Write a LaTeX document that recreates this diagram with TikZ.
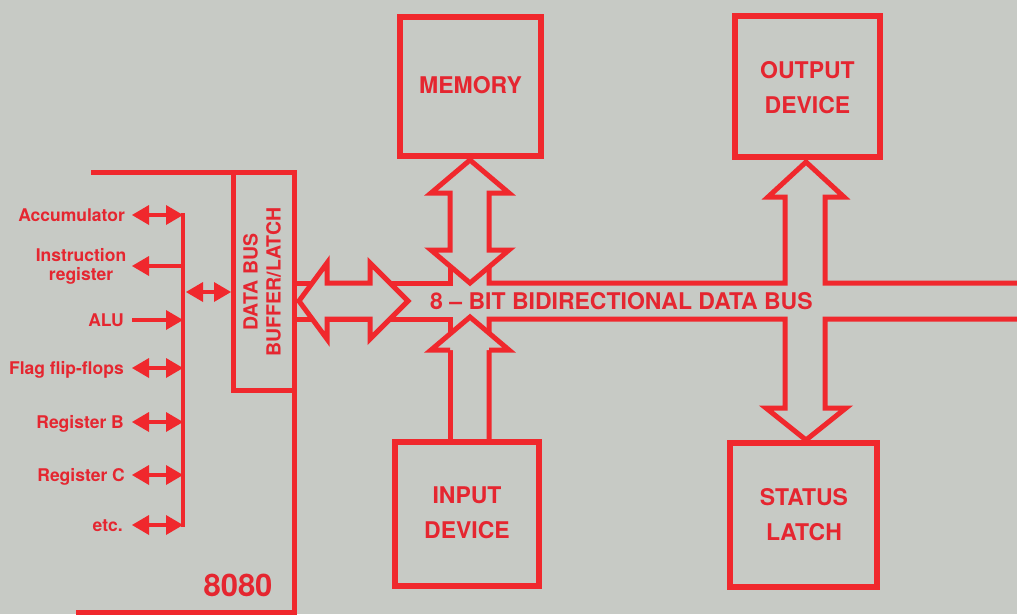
\documentclass[tikz,border=0pt]{standalone}
\usepackage{fontspec}
\setmainfont{TeX Gyre Heros}
\usetikzlibrary{arrows.meta}
\definecolor{bg}{HTML}{C7CAC5}
\definecolor{rd}{HTML}{F0282D}
\definecolor{tx}{HTML}{E52630}
\begin{document}
\begin{tikzpicture}[x=1pt,y=-1pt,
  box/.style={draw=rd,line width=5.5pt,inner sep=0pt},
  bus/.style={draw=rd,line width=5pt,line join=miter},
  cpuline/.style={draw=rd,line width=5pt,line cap=rect},
  sarr/.style={draw=rd,line width=4pt},
  boxlbl/.style={text=tx,align=center,inner sep=0pt,font=\fontsize{23}{35}\selectfont\bfseries},
  sidelbl/.style={text=tx,inner sep=0pt,anchor=base east,font=\fontsize{17.5}{19}\selectfont\bfseries},
  >={Triangle[length=17pt,width=20pt,line width=0pt]}]
\useasboundingbox (0,0) rectangle (1017,614);
\fill[bg] (0,0) rectangle (1017,614);

% CPU outline and buffer/latch box
\draw[cpuline] (93,172) -- (294.5,172) -- (294.5,616);
\draw[cpuline] (78,612) -- (294.5,612);
\draw[cpuline] (233,172) -- (233,390) -- (294.5,390);
\node[rotate=90,text=tx,align=center,inner sep=0pt,font=\fontsize{19.5}{23}\selectfont\bfseries] (buf) at (262,282) {DATA BUS\\BUFFER/LATCH};
\node[text=tx,inner sep=0pt,font=\fontsize{31}{31}\selectfont\bfseries] (cpu) at (238,585) {8080};

% internal bus
\coordinate (vtop) at (183,215);
\coordinate (vbot) at (183,525);
\draw[sarr,line cap=rect] (vtop) -- (vbot);

\node[sidelbl] (acc) at (125,221) {Accumulator};
\node[text=tx,inner sep=0pt,align=center,font=\fontsize{17.5}{19}\selectfont\bfseries] (ir) at (81,266) {Instruction\\register};
\node[sidelbl] (alu) at (124,326) {ALU};
\node[sidelbl] (flag) at (124,374) {Flag flip-flops};
\node[sidelbl] (regb) at (124,428) {Register B};
\node[sidelbl] (regc) at (125,481) {Register C};
\node[sidelbl] (etc) at (123,531) {etc.};

\coordinate (accL) at (132,215);  \coordinate (accV) at (183,215);
\coordinate (irL) at (132,266);   \coordinate (irV) at (183,266);
\coordinate (aluL) at (132,320);  \coordinate (aluV) at (183,320);
\coordinate (flagL) at (132,368); \coordinate (flagV) at (183,368);
\coordinate (regbL) at (132,422); \coordinate (regbV) at (183,422);
\coordinate (regcL) at (132,475); \coordinate (regcV) at (183,475);
\coordinate (etcL) at (132,525);  \coordinate (etcV) at (183,525);
\coordinate (inA) at (186,292);   \coordinate (inB) at (231,292);

\draw[sarr,<->] (accL) -- (accV);
\draw[sarr,<-] (irL) -- (irV);
\draw[sarr,->] (aluL) -- (aluV);
\draw[sarr,<->] (flagL) -- (flagV);
\draw[sarr,<->] (regbL) -- (regbV);
\draw[sarr,<->] (regcL) -- (regcV);
\draw[sarr,<->] (etcL) -- (etcV);
\draw[sarr,<->] (inA) -- (inB);

% boxes
\node[box,minimum width=141pt,minimum height=139pt] (mem) at (470.5,86.5) {};
\node[box,minimum width=145pt,minimum height=141pt] (out) at (807.5,86.5) {};
\node[box,minimum width=144pt,minimum height=144pt] (inp) at (467,514) {};
\node[box,minimum width=147pt,minimum height=144pt] (stat) at (803.5,515) {};

% data bus channel
\draw[bus] (294.5,283) -- (450,283) -- (450,250);
\draw[bus] (489,250) -- (489,283) -- (785,283) -- (785,197) -- (768,197) -- (806,162)
  -- (844,197) -- (825,197) -- (825,283) -- (1022,283);
\draw[bus] (294.5,319) -- (450,319) -- (450,442);
\draw[bus] (489,442) -- (489,319) -- (785,319) -- (785,408) -- (766,408) -- (806,440)
  -- (846,408) -- (825,408) -- (825,319) -- (1022,319);

% memory double arrow
\filldraw[bus,fill=bg] (470,160) -- (509,193) -- (489,193) -- (489,250) -- (509,250)
  -- (470,283) -- (431,250) -- (450,250) -- (450,193) -- (431,193) -- cycle;
% input arrow head
\fill[bg] (470,317) -- (509,350) -- (431,350) -- cycle;
\draw[bus] (450,350) -- (431,350) -- (470,317) -- (509,350) -- (489,350);
% buffer <-> bus double arrow
\filldraw[bus,fill=bg] (299,301) -- (327,263) -- (327,283) -- (370,283) -- (370,263)
  -- (408,301) -- (370,339) -- (370,319) -- (327,319) -- (327,339) -- cycle;

% labels
\node[boxlbl] (memt) at (470.5,85) {MEMORY};
\node[boxlbl] (outt) at (807.5,87.5) {OUTPUT\\DEVICE};
\node[boxlbl] (inpt) at (467,512.5) {INPUT\\DEVICE};
\node[boxlbl] (statt) at (804,514.5) {STATUS\\LATCH};
\node[text=tx,inner sep=0pt,anchor=west,font=\fontsize{23}{23}\selectfont\bfseries] (bust) at (430,301) {8 -- BIT BIDIRECTIONAL DATA BUS};
\end{tikzpicture}
\end{document}
